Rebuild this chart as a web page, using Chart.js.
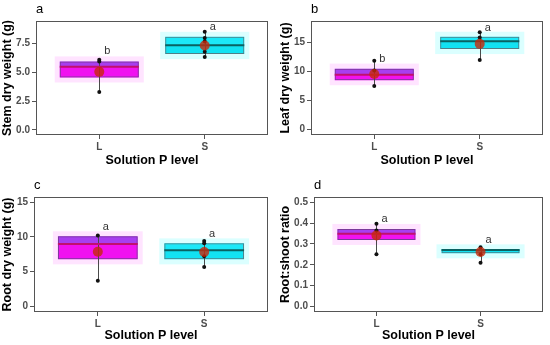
<!DOCTYPE html>
<html>
<head>
<meta charset="utf-8">
<script src="https://cdn.jsdelivr.net/npm/chart.js@4.4.1/dist/chart.umd.min.js"></script>
<style>
  body { margin: 0; background: #fff; }
  #wrap { position: relative; width: 550px; height: 345px; background: #fff; }
  .panel { position: absolute; }
</style>
</head>
<body>
<div id="wrap">
  <div class="panel" style="left:0;top:0"><canvas id="chartA" width="275" height="172"></canvas></div>
  <div class="panel" style="left:275px;top:0"><canvas id="chartB" width="275" height="172"></canvas></div>
  <div class="panel" style="left:0;top:172px"><canvas id="chartC" width="275" height="173"></canvas></div>
  <div class="panel" style="left:275px;top:172px"><canvas id="chartD" width="275" height="173"></canvas></div>
</div>
<script>
const levels = ["L", "S"];
const xTitle = "Solution P level";

// a: stem dry weight
const stemQ1 = [4.56, 6.6];
const stemMedian = [5.49, 7.36];
const stemQ3 = [5.96, 8.1];
const stemMean = [5.05, 7.35];
const stemPoints = [[6.1, 5.95, 3.3], [8.55, 8.0, 7.7, 6.8, 6.35]];
const stemLetters = ["b", "a"];
const stemLetterY = [6.9, 8.95];
const stemTicks = [0, 2.5, 5, 7.5];

// b: leaf dry weight
const leafQ1 = [8.52, 13.9];
const leafMedian = [9.48, 15.24];
const leafQ3 = [10.52, 16.03];
const leafMean = [9.6, 14.8];
const leafPoints = [[11.9, 10.2, 7.5], [16.8, 15.9, 12.0]];
const leafLetters = ["b", "a"];
const leafLetterY = [12.2, 17.6];
const leafTicks = [0, 5, 10, 15];

// c: root dry weight
const rootQ1 = [6.76, 6.76];
const rootMedian = [8.97, 8.06];
const rootQ3 = [10.09, 9.07];
const rootMean = [7.86, 7.81];
const rootPoints = [[10.2, 3.65], [9.4, 9.1, 7.2, 5.65]];
const rootLetters = ["a", "a"];
const rootLetterY = [11.4, 10.45];
const rootTicks = [0, 5, 10, 15];

// d: root:shoot ratio
const ratioQ1 = [0.319, 0.255];
const ratioMedian = [0.349, 0.271];
const ratioQ3 = [0.372, 0.274];
const ratioMean = [0.341, 0.261];
const ratioPoints = [[0.397, 0.365, 0.251], [0.284, 0.25, 0.21]];
const ratioLetters = ["a", "a"];
const ratioLetterY = [0.418, 0.32];
const ratioTicks = [0, 0.1, 0.2, 0.3, 0.4, 0.5];

const lowerColors = ["#F012F0", "#12E2F2"];
const upperColors = ["#A83EF0", "#1CE8F8"];
const boxBorders = ["#7A3A9A", "#4F8088"];
const medianColors = ["#C0106E", "#0A6262"];
const haloColors = ["rgba(255,205,255,0.55)", "rgba(195,255,255,0.6)"];
const BOX_HALF = 0.375;

function makePanel(id, p) {
  const boxPlugin = {
    id: "boxExtras",
    beforeDatasetsDraw(chart) {
      const { ctx, scales: { x, y } } = chart;
      ctx.save();
      levels.forEach((lv, i) => {
        const x0 = x.getPixelForValue(i + 1 - BOX_HALF) - 5;
        const x1 = x.getPixelForValue(i + 1 + BOX_HALF) + 5;
        const y0 = y.getPixelForValue(p.q3[i]) - 5;
        const y1 = y.getPixelForValue(p.q1[i]) + 5;
        ctx.fillStyle = haloColors[i];
        ctx.fillRect(x0, y0, x1 - x0, y1 - y0);
      });
      ctx.restore();
    },
    afterDatasetDraw(chart, args) {
      if (chart.data.datasets[args.index].label !== "box") return;
      const { ctx, scales: { x, y } } = chart;
      ctx.save();
      levels.forEach((lv, i) => {
        // whisker
        const cx = Math.round(x.getPixelForValue(i + 1)) + 0.5;
        ctx.strokeStyle = "#4a4a4a";
        ctx.lineWidth = 1;
        ctx.beginPath();
        ctx.moveTo(cx, y.getPixelForValue(Math.min(...p.points[i])));
        ctx.lineTo(cx, y.getPixelForValue(Math.max(...p.points[i])));
        ctx.stroke();
        // median
        const my = y.getPixelForValue(p.median[i]);
        ctx.strokeStyle = medianColors[i];
        ctx.lineWidth = 2;
        ctx.beginPath();
        ctx.moveTo(x.getPixelForValue(i + 1 - BOX_HALF), my);
        ctx.lineTo(x.getPixelForValue(i + 1 + BOX_HALF), my);
        ctx.stroke();
      });
      ctx.restore();
    },
    afterDraw(chart) {
      const { ctx, chartArea: a, scales: { x, y } } = chart;
      ctx.save();
      ctx.strokeStyle = "#555";
      ctx.lineWidth = 1;
      ctx.strokeRect(a.left + 0.5, a.top + 0.5, a.right - a.left - 1, a.bottom - a.top - 1);
      // significance letters
      ctx.fillStyle = "#333";
      ctx.font = "11px 'Liberation Sans', Arial, sans-serif";
      ctx.textAlign = "center";
      ctx.textBaseline = "middle";
      p.letters.forEach((t, i) => {
        ctx.fillText(t, x.getPixelForValue(i + 1) + 8, y.getPixelForValue(p.letterY[i]));
      });
      // panel tag
      ctx.fillStyle = "#000";
      ctx.font = "13px 'Liberation Sans', Arial, sans-serif";
      ctx.textAlign = "left";
      ctx.fillText(p.tag, a.left, a.top - 12);
      ctx.restore();
    }
  };

  const H = p.height;
  new Chart(document.getElementById(id), {
    type: "bar",
    data: {
      datasets: [
        {
          type: "scatter",
          label: "mean",
          data: levels.map((lv, i) => ({ x: i + 1, y: p.mean[i] })),
          pointRadius: 5,
          pointBackgroundColor: "rgba(200,40,10,0.8)",
          pointBorderWidth: 0,
          order: 1
        },
        {
          type: "scatter",
          label: "points",
          data: levels.flatMap((lv, i) => p.points[i].map((v) => ({ x: i + 1, y: v }))),
          pointRadius: 2,
          pointBackgroundColor: "#111",
          pointBorderWidth: 0,
          order: 2
        },
        {
          label: "box",
          data: levels.map((lv, i) => ({ x: i + 1, y: [p.q1[i], p.q3[i]] })),
          backgroundColor: "rgba(0,0,0,0)",
          borderColor: boxBorders,
          borderWidth: 1,
          borderSkipped: false,
          grouped: false,
          order: 3
        },
        {
          label: "upper",
          data: levels.map((lv, i) => ({ x: i + 1, y: [p.median[i], p.q3[i]] })),
          backgroundColor: upperColors,
          borderWidth: 0,
          grouped: false,
          order: 4
        },
        {
          label: "lower",
          data: levels.map((lv, i) => ({ x: i + 1, y: [p.q1[i], p.median[i]] })),
          backgroundColor: lowerColors,
          borderWidth: 0,
          grouped: false,
          order: 5
        }
      ]
    },
    options: {
      responsive: false,
      animation: false,
      categoryPercentage: 1,
      barPercentage: 0.75,
      layout: { padding: { left: 0, top: p.top, right: 275 - p.right, bottom: 0 } },
      plugins: {
        legend: { display: false },
        tooltip: { enabled: false }
      },
      scales: {
        x: {
          type: "linear",
          offset: false,
          min: 0.4,
          max: 2.6,
          afterBuildTicks: (scale) => { scale.ticks = [{ value: 1 }, { value: 2 }]; },
          afterFit: (scale) => { scale.height = H - p.bottom; },
          ticks: {
            color: "#4d4d4d",
            font: { family: "'Liberation Sans', Arial", size: 10, weight: "bold" },
            padding: 2,
            maxRotation: 0,
            callback: (v) => levels[v - 1]
          },
          grid: { drawOnChartArea: false, drawTicks: true, tickLength: 4, color: "#555", offset: false },
          border: { display: false },
          title: {
            display: true,
            text: xTitle,
            color: "#000",
            font: { family: "'Liberation Sans', Arial", size: 12.5, weight: "bold" },
            padding: { top: 0, bottom: p.xTitlePad }
          }
        },
        y: {
          min: p.yMin,
          max: p.yMax,
          afterBuildTicks: (scale) => { scale.ticks = p.ticks.map((v) => ({ value: v })); },
          afterFit: (scale) => { scale.width = p.left; },
          ticks: {
            color: "#4d4d4d",
            font: { family: "'Liberation Sans', Arial", size: 10, weight: "bold" },
            padding: 2,
            callback: (v) => v.toFixed(p.decimals)
          },
          grid: { drawOnChartArea: false, drawTicks: true, tickLength: 4, color: "#555" },
          border: { display: false },
          title: {
            display: true,
            text: p.yTitle,
            color: "#000",
            font: { family: "'Liberation Sans', Arial", size: 12.5, weight: "bold" },
            padding: { top: p.yTitlePad, bottom: 0 }
          }
        }
      }
    },
    plugins: [boxPlugin]
  });
}

makePanel("chartA", {
  tag: "a", yTitle: "Stem dry weight (g)", height: 172,
  left: 36, right: 268, top: 21, bottom: 135, yTitlePad: 0, xTitlePad: 4,
  yMin: -0.45, yMax: 9.48, ticks: stemTicks, decimals: 1,
  q1: stemQ1, median: stemMedian, q3: stemQ3, mean: stemMean,
  points: stemPoints, letters: stemLetters, letterY: stemLetterY
});
makePanel("chartB", {
  tag: "b", yTitle: "Leaf dry weight (g)", height: 172,
  left: 36, right: 268, top: 21, bottom: 135, yTitlePad: 3, xTitlePad: 4,
  yMin: -0.95, yMax: 18.75, ticks: leafTicks, decimals: 0,
  q1: leafQ1, median: leafMedian, q3: leafQ3, mean: leafMean,
  points: leafPoints, letters: leafLetters, letterY: leafLetterY
});
makePanel("chartC", {
  tag: "c", yTitle: "Root dry weight (g)", height: 173,
  left: 34, right: 268, top: 25, bottom: 140, yTitlePad: 0, xTitlePad: 2,
  yMin: -0.85, yMax: 15.77, ticks: rootTicks, decimals: 0,
  q1: rootQ1, median: rootMedian, q3: rootQ3, mean: rootMean,
  points: rootPoints, letters: rootLetters, letterY: rootLetterY
});
makePanel("chartD", {
  tag: "d", yTitle: "Root:shoot ratio", height: 173,
  left: 39, right: 268, top: 25, bottom: 140, yTitlePad: 3, xTitlePad: 2,
  yMin: -0.027, yMax: 0.5255, ticks: ratioTicks, decimals: 1,
  q1: ratioQ1, median: ratioMedian, q3: ratioQ3, mean: ratioMean,
  points: ratioPoints, letters: ratioLetters, letterY: ratioLetterY
});
</script>
</body>
</html>
